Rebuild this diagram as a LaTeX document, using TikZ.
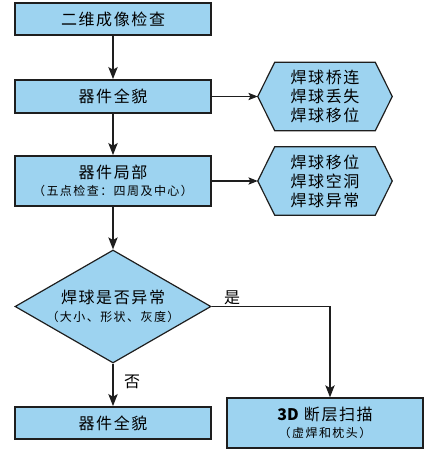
\documentclass[tikz,border=0pt]{standalone}
\usepackage{fontspec}
\setmainfont{Noto Sans CJK SC}
\newfontfamily\cjk[LetterSpace=10]{Noto Sans CJK SC}
\newfontfamily\cjks[LetterSpace=12]{Noto Sans CJK SC}
\newcommand\subtextfont{\cjks\fontsize{9}{10}\selectfont}
\usetikzlibrary{shapes.geometric,arrows.meta,backgrounds,calc}
\definecolor{boxfill}{RGB}{157,211,240}
\definecolor{boxline}{RGB}{30,30,30}
\tikzset{
  flowbox/.style={draw=boxline, fill=boxfill, line width=1.4pt, minimum width=147pt, inner sep=0pt, align=center, font=\cjk\fontsize{12}{15}\selectfont},
  hexbox/.style={minimum width=100.5pt, minimum height=51pt, inner sep=0pt, align=center, font=\cjk\fontsize{12}{14.2}\selectfont},
  hexshape/.style={draw=boxline, fill=boxfill, line width=0.9pt},
  decision/.style={diamond, shape aspect=1.73, draw=boxline, fill=boxfill, line width=0.9pt, minimum width=147pt, minimum height=84.75pt, inner sep=0pt, align=center, font=\cjk\fontsize{12}{15}\selectfont},
  conn/.style={draw=boxline, line width=1pt, -{Stealth[length=9pt,width=7pt,inset=2pt]}},
  sideconn/.style={draw=boxline, line width=0.8pt, -{Stealth[length=7pt,width=5.5pt,inset=1.5pt]}},
  lbl/.style={font=\fontsize{12}{14}\selectfont, inner sep=0pt}
}
\begin{document}
\begin{tikzpicture}[x=0.75pt,y=-0.75pt]
\useasboundingbox (0,0) rectangle (432,452);
\node[flowbox, minimum height=24pt] (b1) at (113,19) {二维成像检查};
\node[flowbox, minimum height=24.75pt] (b2) at (113,96.5) {器件全貌};
\node[flowbox, minimum height=37.5pt] (b3) at (113,181) {器件局部\\[-2pt]{\subtextfont（五点检查：四周及中心）}};
\node[hexbox] (h1) at (325,96.5) {焊球桥连\\焊球丢失\\焊球移位};
\node[hexbox] (h2) at (325,181) {焊球移位\\焊球空洞\\焊球异常};
\begin{scope}[on background layer]
\foreach \h in {h1,h2}{
  \draw[hexshape] (\h.west) -- ($(\h.north west)+(17,0)$) -- ($(\h.north east)+(-17,0)$) -- (\h.east) -- ($(\h.south east)+(-17,0)$) -- ($(\h.south west)+(17,0)$) -- cycle;
}
\end{scope}
\node[decision] (d) at (113,306.5) {焊球是否异常\\[-1pt]{\subtextfont（大小、形状、灰度）}};
\node[flowbox, minimum height=24pt] (b4) at (113,423) {器件全貌};
\node[flowbox, minimum height=37.5pt, line width=1pt] (b5) at (325,423) {{\fontspec{Noto Sans CJK SC}\bfseries 3D} 断层扫描\\[-2pt]{\subtextfont（虚焊和枕头）}};
\draw[conn] (b1) -- (b2);
\draw[conn] (b2) -- (b3);
\draw[conn] (b3) -- (d);
\draw[conn] (d) -- (b4);
\draw[sideconn] (b2.east) -- (h1.west);
\draw[sideconn] (b3.east) -- (h2.west);
\draw[conn] (d.east) -| ($(b5.north)+(5,0)$);
\node[lbl] (yes) at (232,298) {是};
\node[lbl] (no) at (132,382) {否};
\end{tikzpicture}
\end{document}
